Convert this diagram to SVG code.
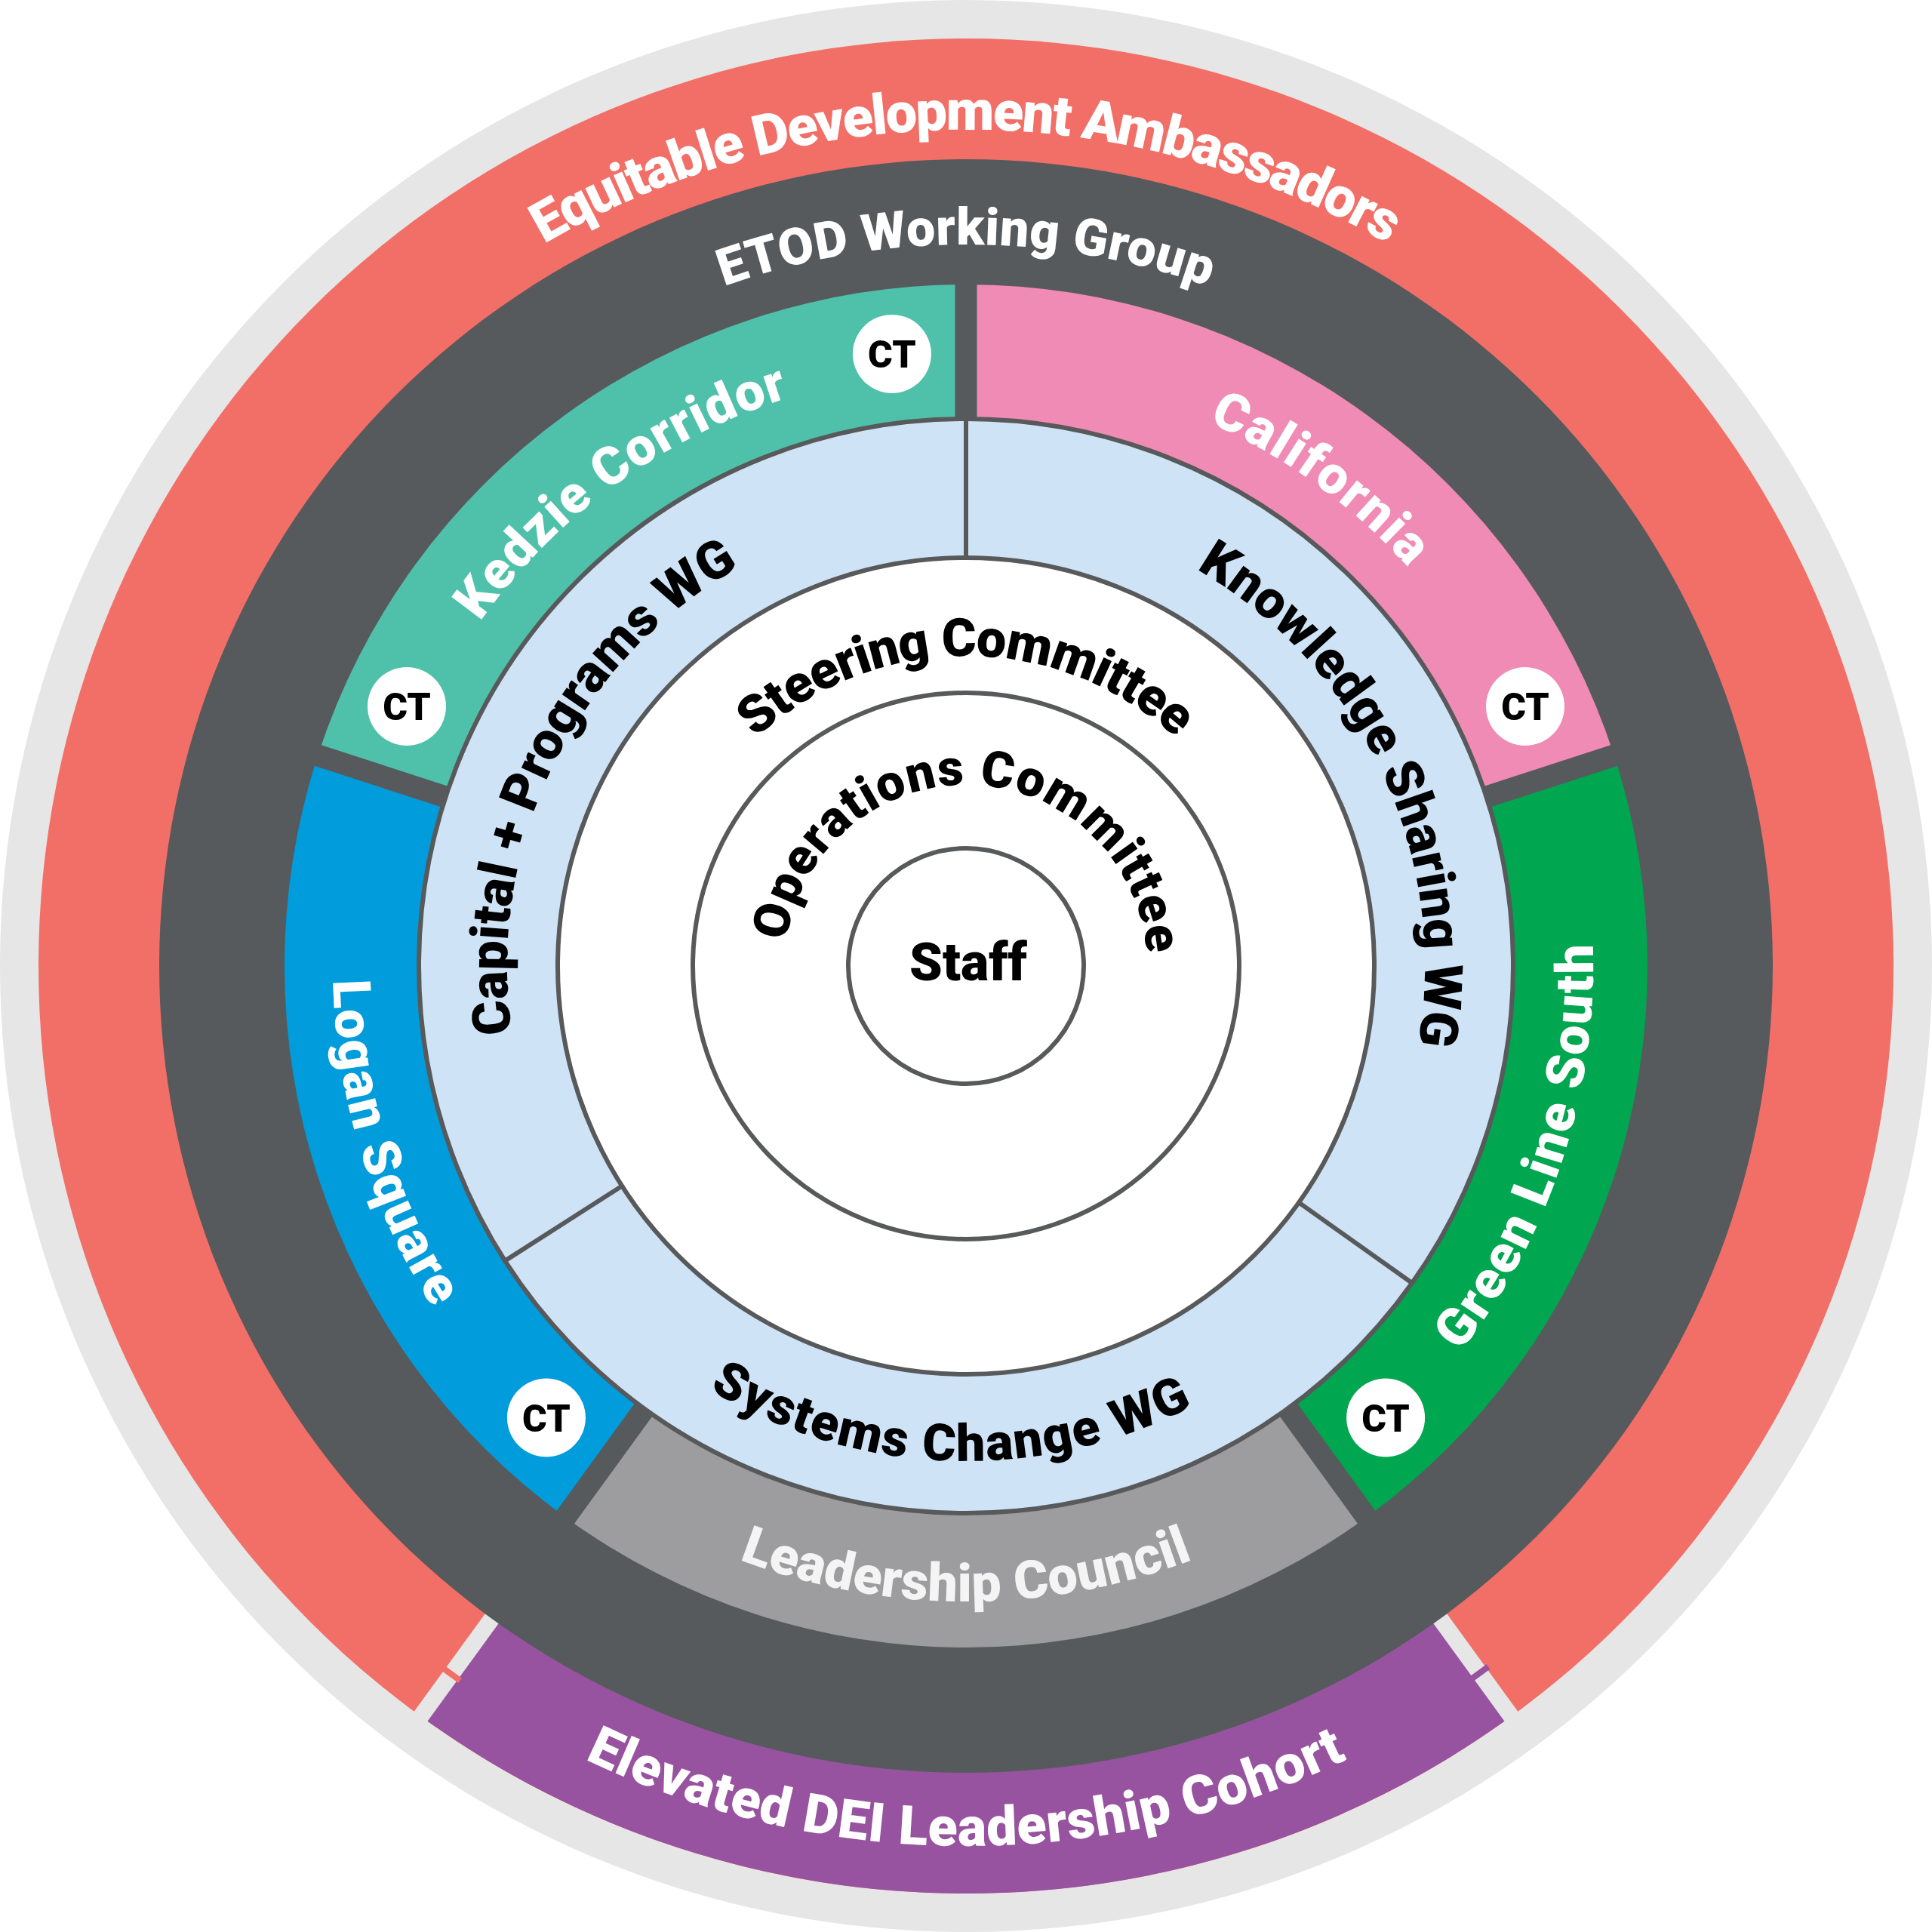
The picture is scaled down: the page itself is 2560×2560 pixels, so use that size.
<svg xmlns="http://www.w3.org/2000/svg" xmlns:xlink="http://www.w3.org/1999/xlink" width="2560" height="2560" viewBox="0 0 2560 2560">
<style>
.t{font-family:Roboto,"Liberation Sans",sans-serif;font-weight:900;}
.w{fill:#ffffff;}
.k{fill:#000000;}
.ln{stroke:#58595b;stroke-width:6;fill:none;}
.ct{fill:#ffffff;}
.ctt{font-family:Roboto,"Liberation Sans",sans-serif;font-weight:900;font-size:50px;fill:#000;text-anchor:middle;}
</style>
<defs>
<path id="pEq" d="M320.4,726 A1108,1108 0 0 1 2239.6,726"/>
<path id="pEtod" d="M547.7,665.5 A956,956 0 0 1 2012.3,665.5"/>
<path id="pKed" d="M495.3,1362.5 A789,789 0 0 1 1600.9,559.2"/>
<path id="pCal" d="M959.1,559.2 A789,789 0 0 1 2064.7,1362.5"/>
<path id="pGreen" d="M1452.7,2092.8 A831,831 0 0 0 1897.6,723.9"/>
<path id="pLogan" d="M666.4,707.8 A839,839 0 0 0 1091.3,2097.5"/>
<path id="pLead" d="M550.8,1701 A842,842 0 0 0 2009.2,1701"/>
<path id="pElev" d="M270.2,1863 A1166,1166 0 0 0 2289.8,1863"/>
<path id="pSys" d="M656.1,1482.7 A656,656 0 0 0 1888.2,1525.7"/>
<path id="pCap" d="M842.7,1702.4 A608,608 0 0 1 1343.6,675.3"/>
<path id="pKnow" d="M1227,674.3 A608,608 0 0 1 1709.9,1709.9"/>
<path id="pSteer" d="M875.3,1208.6 A411,411 0 0 1 1684.7,1208.6"/>
<path id="pOps" d="M1042.3,1313.4 A240,240 0 1 1 1514.7,1329.9"/>
</defs>

<circle cx="1280" cy="1280" r="1280" fill="#e6e6e6"/>

<g id="equitable-development-ambassadors">
<circle cx="1280" cy="1280" r="1229" fill="#f26f67"/>
<text class="t w" font-size="74"><textPath href="#pEq" xlink:href="#pEq" startOffset="50%" text-anchor="middle" textLength="1172" lengthAdjust="spacing">Equitable Development Ambassadors</textPath></text>
</g>

<g id="elevated-dei-leadership-cohort">
<path d="M1280,1280 L2002.4,2274.3 A1229,1229 0 0 1 557.6,2274.3 Z" fill="#97539f"/>
<line x1="1897.2" y1="2129.5" x2="2011.8" y2="2287.2" stroke="#e6e6e6" stroke-width="22"/>
<line x1="662.8" y1="2129.5" x2="548.2" y2="2287.2" stroke="#e6e6e6" stroke-width="22"/>
<line x1="609.5" y1="2226.7" x2="586.9" y2="2210.3" stroke="#f26f67" stroke-width="8"/>
<line x1="1949.4" y1="2225" x2="1972" y2="2208.6" stroke="#97539f" stroke-width="8"/>
<text class="t w" font-size="72"><textPath href="#pElev" xlink:href="#pElev" startOffset="50%" text-anchor="middle" textLength="1045" lengthAdjust="spacing">Elevated DEI Leadership Cohort</textPath></text>
</g>

<g id="etod-working-group">
<circle cx="1280" cy="1280" r="1069" fill="#575a5d"/>
<text class="t w" font-size="68"><textPath href="#pEtod" xlink:href="#pEtod" startOffset="50%" text-anchor="middle" textLength="654" lengthAdjust="spacing">ETOD Working Group</textPath></text>
</g>

<g id="kedzie-corridor">
<path d="M421.2,1001 A903,903 0 0 1 1280,377 L1280,555 A725,725 0 0 0 590.5,1056 Z" fill="#4fc1aa"/>
<text class="t w" font-size="70"><textPath href="#pKed" xlink:href="#pKed" startOffset="50%" text-anchor="middle" textLength="515" lengthAdjust="spacing">Kedzie Corridor</textPath></text>
</g>

<g id="california">
<path d="M1280,377 A903,903 0 0 1 2138.8,1001 L1969.5,1056 A725,725 0 0 0 1280,555 Z" fill="#f08bb5"/>
<text class="t w" font-size="70"><textPath href="#pCal" xlink:href="#pCal" startOffset="50%" text-anchor="middle" textLength="330" lengthAdjust="spacing">California</textPath></text>
</g>

<g id="green-line-south">
<path d="M2138.8,1001 A903,903 0 0 1 1810.8,2010.5 L1706.2,1866.5 A725,725 0 0 0 1969.5,1056 Z" fill="#00a650"/>
<text class="t w" font-size="70"><textPath href="#pGreen" xlink:href="#pGreen" startOffset="50%" text-anchor="middle" textLength="580" lengthAdjust="spacing">Green Line South</textPath></text>
</g>

<g id="leadership-council">
<path d="M1810.8,2010.5 A903,903 0 0 1 749.2,2010.5 L853.8,1866.5 A725,725 0 0 0 1706.2,1866.5 Z" fill="#9d9d9f"/>
<text class="t" fill="#f4f4f4" font-size="70"><textPath href="#pLead" xlink:href="#pLead" startOffset="50%" text-anchor="middle" textLength="615" lengthAdjust="spacing">Leadership Council</textPath></text>
</g>

<g id="logan-square">
<path d="M749.2,2010.5 A903,903 0 0 1 421.2,1001 L590.5,1056 A725,725 0 0 0 853.8,1866.5 Z" fill="#009cdb"/>
<text class="t w" font-size="70"><textPath href="#pLogan" xlink:href="#pLogan" startOffset="50%" text-anchor="middle" textLength="460" lengthAdjust="spacing">Logan Square</textPath></text>
</g>

<g id="segment-gaps" stroke="#575a5d" stroke-width="29">
<line x1="1280" y1="580" x2="1280" y2="365"/>
<line x1="1945.8" y1="1063.7" x2="2150.2" y2="997.3"/>
<line x1="1691.5" y1="1846.3" x2="1817.8" y2="2020.2"/>
<line x1="868.5" y1="1846.3" x2="742.2" y2="2020.2"/>
<line x1="614.2" y1="1063.7" x2="409.8" y2="997.3"/>
</g>

<g id="ct-markers">
<circle class="ct" cx="1181.9" cy="468.9" r="52"/><text class="ctt" x="1181.9" y="487">CT</text>
<circle class="ct" cx="539" cy="936" r="52"/><text class="ctt" x="539" y="954">CT</text>
<circle class="ct" cx="2021" cy="936" r="52"/><text class="ctt" x="2021" y="954">CT</text>
<circle class="ct" cx="1836.1" cy="1878.5" r="52"/><text class="ctt" x="1836.1" y="1896.5">CT</text>
<circle class="ct" cx="723.9" cy="1878.5" r="52"/><text class="ctt" x="723.9" y="1896.5">CT</text>
</g>

<g id="working-groups">
<circle cx="1280" cy="1280" r="725" fill="#cfe3f6" stroke="#58595b" stroke-width="6"/>
<text class="t k" font-size="70"><textPath href="#pCap" xlink:href="#pCap" startOffset="50%" text-anchor="middle" textLength="730" lengthAdjust="spacing">Capital + Programs WG</textPath></text>
<text class="t k" font-size="70"><textPath href="#pKnow" xlink:href="#pKnow" startOffset="50%" text-anchor="middle" textLength="740" lengthAdjust="spacing">Knowledge Sharing WG</textPath></text>
<text class="t k" font-size="68"><textPath href="#pSys" xlink:href="#pSys" startOffset="50%" text-anchor="middle" textLength="670" lengthAdjust="spacing">Systems Change WG</textPath></text>
</g>

<g id="dividers" class="ln">
<line x1="1280" y1="739" x2="1280" y2="555"/>
<line x1="1721" y1="1593.4" x2="1871" y2="1700"/>
<line x1="824.2" y1="1571.5" x2="669.2" y2="1670.6"/>
</g>

<g id="steering-committee">
<circle cx="1280" cy="1280" r="541" fill="#ffffff" stroke="#58595b" stroke-width="6"/>
<text class="t k" font-size="70"><textPath href="#pSteer" xlink:href="#pSteer" startOffset="50%" text-anchor="middle" textLength="612" lengthAdjust="spacing">Steering Committee</textPath></text>
</g>

<g id="operations-committee">
<circle cx="1280" cy="1280" r="362" fill="none" stroke="#58595b" stroke-width="6"/>
<text class="t k" font-size="67"><textPath href="#pOps" xlink:href="#pOps" startOffset="50%" text-anchor="middle" textLength="705" lengthAdjust="spacing">Operations Committee</textPath></text>
</g>

<g id="staff">
<circle cx="1280" cy="1280" r="156" fill="none" stroke="#58595b" stroke-width="6"/>
<text class="t k" x="1283" y="1299" font-size="70" text-anchor="middle">Staff</text>
</g>
</svg>
